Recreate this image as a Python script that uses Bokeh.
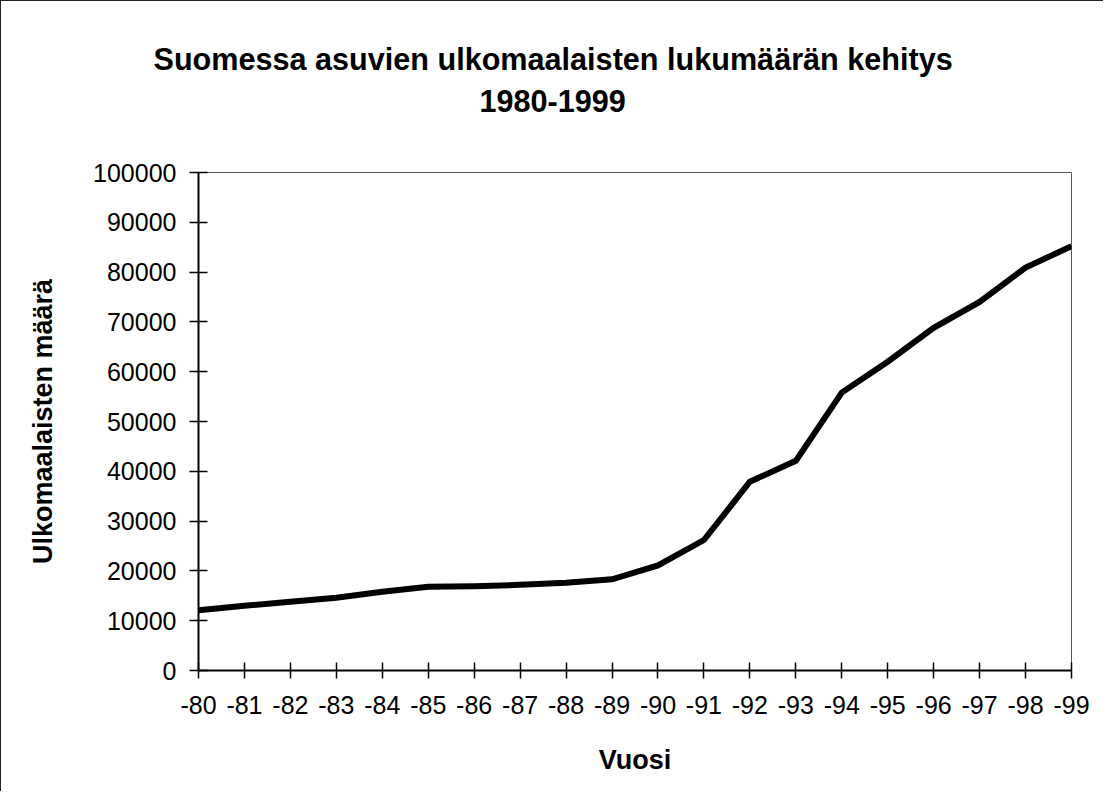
from bokeh.plotting import figure
from bokeh.models import Range1d, FixedTicker, BasicTickFormatter, Title
from bokeh.embed import file_html
from bokeh.resources import INLINE

# ---- data ----
years = [1980, 1981, 1982, 1983, 1984, 1985, 1986, 1987, 1988, 1989,
         1990, 1991, 1992, 1993, 1994, 1995, 1996, 1997, 1998, 1999]
year_labels = ["-80", "-81", "-82", "-83", "-84", "-85", "-86", "-87", "-88", "-89",
               "-90", "-91", "-92", "-93", "-94", "-95", "-96", "-97", "-98", "-99"]
foreigners = [12100, 13000, 13800, 14600, 15800, 16800, 16900, 17200, 17600, 18300,
              21100, 26200, 37900, 42100, 55800, 62000, 68800, 74000, 80900, 85200]
y_ticks = [0, 10000, 20000, 30000, 40000, 50000, 60000, 70000, 80000, 90000, 100000]

title_line1 = "Suomessa asuvien ulkomaalaisten lukumäärän kehitys"
title_line2 = "1980-1999"
x_title = "Vuosi"
y_title = "Ulkomaalaisten määrä"

FONT = "Liberation Sans"

p = figure(width=1103, height=791, output_backend="svg", toolbar_location=None,
           x_range=Range1d(years[0], years[-1]), y_range=Range1d(0, 100000),
           min_border_left=197, min_border_right=33, min_border_top=171,
           min_border_bottom=122)

p.styles = {"border-left": "1px solid #222", "border-top": "1px solid #222"}

p.line(years, foreigners, line_color="black", line_width=6, line_join="miter")

p.xgrid.visible = False
p.ygrid.visible = False
p.outline_line_color = "#555555"
p.outline_line_width = 1

# x axis
xa = p.xaxis[0]
xa.ticker = FixedTicker(ticks=years)
xa.major_label_overrides = {y: l for y, l in zip(years, year_labels)}
xa.minor_tick_line_color = None
xa.major_tick_in = 8
xa.major_tick_out = 8
xa.major_tick_line_color = "black"
xa.major_tick_line_width = 1.5
xa.axis_line_color = "black"
xa.axis_line_width = 2
xa.major_label_text_font = FONT
xa.major_label_text_font_size = "25px"
xa.major_label_text_color = "black"
xa.major_label_standoff = 17
xa.axis_label = x_title
xa.axis_label_text_font = FONT
xa.axis_label_text_font_style = "bold"
xa.axis_label_text_font_size = "27px"
xa.axis_label_text_color = "black"
xa.axis_label_standoff = 28

# y axis
ya = p.yaxis[0]
ya.ticker = FixedTicker(ticks=y_ticks)
ya.formatter = BasicTickFormatter(use_scientific=False)
ya.minor_tick_line_color = None
ya.major_tick_in = 9
ya.major_tick_out = 9
ya.major_tick_line_color = "black"
ya.major_tick_line_width = 1.5
ya.axis_line_color = "black"
ya.axis_line_width = 2
ya.major_label_text_font = FONT
ya.major_label_text_font_size = "25px"
ya.major_label_text_color = "black"
ya.major_label_standoff = 13
ya.axis_label = y_title
ya.axis_label_text_font = FONT
ya.axis_label_text_font_style = "bold"
ya.axis_label_text_font_size = "27px"
ya.axis_label_text_color = "black"
ya.axis_label_standoff = 32

# two-line title, centred on the whole chart (frame sits right of centre)
title_kw = dict(text_font=FONT, text_font_style="bold", text_font_size="30.6px",
                text_color="black", align="left")
spacer = Title(text=" ", text_font_size="30px", standoff=16)
t2 = Title(text=title_line2, offset=281, standoff=20, **title_kw)
t1 = Title(text=title_line1, offset=-45, standoff=4, **title_kw)
p.add_layout(spacer, "above")
p.add_layout(t2, "above")
p.add_layout(t1, "above")

open("out.html", "w").write(file_html(p, INLINE))
